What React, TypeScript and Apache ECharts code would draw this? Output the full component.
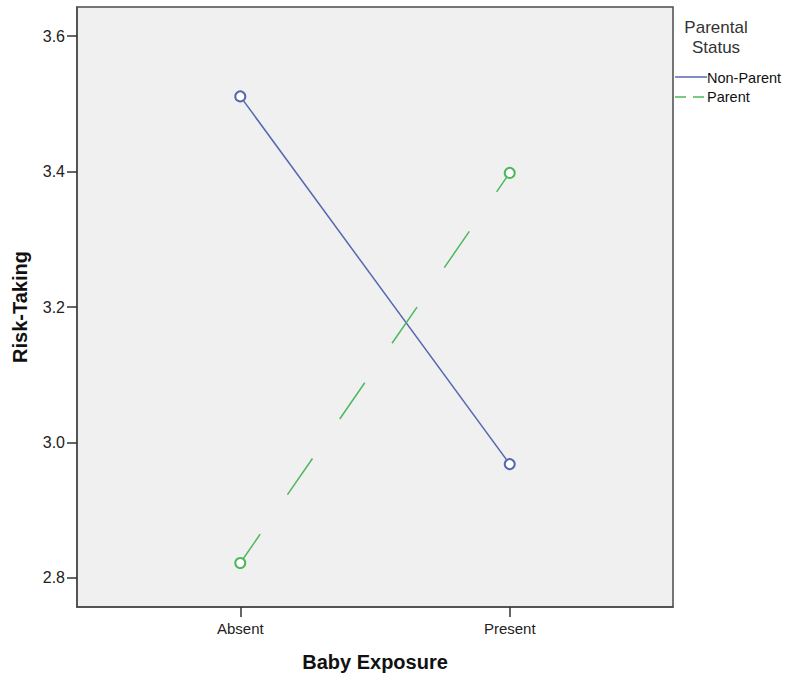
import React, { useEffect, useRef } from "react";
import * as echarts from "echarts";

const categories = ["Absent", "Present"];
const seriesNames = ["Non-Parent", "Parent"];
const nonParent = [3.511, 2.968];
const parent = [2.822, 3.398];
const yTicks = [2.8, 3.0, 3.2, 3.4, 3.6];
const legendTitle = ["Parental", "Status"];

const BLUE = "#5468b0";
const GREEN = "#4cb85c";
const FONT = "'Liberation Sans', Arial, sans-serif";

export default function App() {
  const ref = useRef<HTMLDivElement>(null);
  useEffect(() => {
    document.body.style.margin = "0";
    if (!ref.current) return;
    const chart = echarts.init(ref.current, undefined, { renderer: "svg" });
    const xIdx = categories.map((_, i) => i);
    chart.setOption({
      animation: false,
      backgroundColor: "#ffffff",
      textStyle: { fontFamily: FONT },
      grid: {
        left: 77,
        top: 7,
        right: 117,
        bottom: 70,
        show: true,
        backgroundColor: "#f0f0f0",
        borderColor: "#4a4a4a",
        borderWidth: 1.5,
      },
      xAxis: {
        type: "value",
        min: -0.606,
        max: 1.606,
        name: "Baby Exposure",
        nameLocation: "middle",
        nameGap: 45,
        nameTextStyle: { fontSize: 20, fontWeight: "bold", color: "#111", fontFamily: FONT },
        axisLine: { show: true, onZero: false, lineStyle: { color: "#4a4a4a", width: 1.5 } },
        axisTick: { show: true, length: 10, customValues: xIdx, lineStyle: { color: "#333", width: 1.5 } },
        axisLabel: {
          customValues: xIdx,
          formatter: (v: number) => categories[Math.round(v)] ?? "",
          fontSize: 15,
          color: "#222",
          margin: 14,
          fontFamily: FONT,
        },
        splitLine: { show: false },
      },
      yAxis: {
        type: "value",
        min: 2.757,
        max: 3.643,
        name: "Risk-Taking",
        nameLocation: "middle",
        nameGap: 47,
        nameRotate: 90,
        nameTextStyle: { fontSize: 20, fontWeight: "bold", color: "#111", fontFamily: FONT },
        axisLine: { show: true, onZero: false, lineStyle: { color: "#4a4a4a", width: 1.5 } },
        axisTick: { show: true, length: 10, customValues: yTicks, lineStyle: { color: "#333", width: 1.5 } },
        axisLabel: {
          customValues: yTicks,
          formatter: (v: number) => v.toFixed(1),
          fontSize: 16,
          color: "#222",
          margin: 12,
          fontFamily: FONT,
        },
        splitLine: { show: false },
      },
      series: [
        {
          name: seriesNames[0],
          type: "line",
          data: nonParent.map((v, i) => [i, v]),
          symbol: "emptyCircle",
          symbolSize: 10,
          lineStyle: { color: BLUE, width: 1.5 },
          itemStyle: { color: BLUE, borderColor: BLUE, borderWidth: 1.5 },
        },
        {
          name: seriesNames[1],
          type: "line",
          data: parent.map((v, i) => [i, v]),
          symbol: "emptyCircle",
          symbolSize: 10,
          lineStyle: { color: GREEN, width: 1.5, type: [44, 48], dashOffset: 9 },
          itemStyle: { color: GREEN, borderColor: GREEN, borderWidth: 1.5 },
        },
      ],
      graphic: [
        {
          type: "text",
          x: 716,
          y: 27,
          style: {
            text: legendTitle[0],
            align: "center",
            verticalAlign: "middle",
            fontSize: 17,
            fill: "#333",
            fontFamily: FONT,
          },
        },
        {
          type: "text",
          x: 716,
          y: 47,
          style: {
            text: legendTitle[1],
            align: "center",
            verticalAlign: "middle",
            fontSize: 17,
            fill: "#333",
            fontFamily: FONT,
          },
        },
        {
          type: "line",
          shape: { x1: 675, y1: 77, x2: 707, y2: 77 },
          style: { stroke: BLUE, lineWidth: 1.5 },
        },
        {
          type: "text",
          x: 707,
          y: 78,
          style: { text: seriesNames[0], fontSize: 14.5, fill: "#111", verticalAlign: "middle", fontFamily: FONT },
        },
        {
          type: "line",
          shape: { x1: 675, y1: 97, x2: 705, y2: 97 },
          style: { stroke: GREEN, lineWidth: 1.5, lineDash: [11, 7] },
        },
        {
          type: "text",
          x: 707,
          y: 97,
          style: { text: seriesNames[1], fontSize: 14.5, fill: "#111", verticalAlign: "middle", fontFamily: FONT },
        },
      ],
    });
    return () => chart.dispose();
  }, []);
  return <div ref={ref} style={{ width: 790, height: 677 }} />;
}
